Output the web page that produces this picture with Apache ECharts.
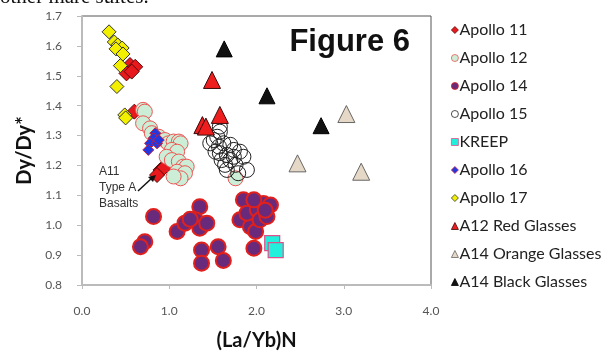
<!DOCTYPE html>
<html>
<head>
<meta charset="utf-8">
<script src="https://cdn.jsdelivr.net/npm/echarts@6/dist/echarts.min.js"></script>
<style>
  html, body { margin: 0; padding: 0; background: #fff; }
  #chart { width: 610px; height: 358px; }
</style>
</head>
<body>
<div id="chart"></div>
<script>
// [(La/Yb)N, Dy/Dy*] pairs per sample suite
const apollo11 = [[0.55, 1.536], [0.61, 1.53], [0.51, 1.508], [0.57, 1.514], [0.60, 1.38], [0.90, 1.185], [0.93, 1.19], [0.86, 1.168]];
const apollo12 = [[0.70, 1.386], [0.72, 1.38], [0.70, 1.341], [0.78, 1.324], [0.80, 1.308], [0.88, 1.296], [0.95, 1.285],
  [0.99, 1.274], [1.05, 1.28], [1.11, 1.28], [1.13, 1.274], [1.03, 1.252], [1.09, 1.246], [0.97, 1.229], [1.03, 1.218],
  [1.11, 1.213], [1.16, 1.196], [1.20, 1.196], [1.09, 1.179], [1.18, 1.174], [1.13, 1.157], [1.05, 1.163], [1.76, 1.157]];
const apollo14 = [[0.82, 1.029], [0.72, 0.945], [0.67, 0.928], [1.09, 0.979], [1.18, 1.007], [1.35, 1.062], [1.30, 1.018],
  [1.35, 0.99], [1.43, 1.007], [1.37, 0.917], [1.56, 0.928], [1.37, 0.873], [1.62, 0.882], [1.97, 0.923], [1.85, 1.085],
  [1.81, 1.018], [1.93, 0.995], [1.99, 0.979], [1.89, 1.04], [2.01, 1.051], [2.08, 1.073], [2.16, 1.068], [2.04, 1.018],
  [2.12, 1.029], [1.97, 1.085], [1.24, 1.02], [2.10, 1.05]];
const apollo15 = [[1.58, 1.33], [1.58, 1.313], [1.55, 1.296], [1.51, 1.285], [1.47, 1.274], [1.57, 1.263], [1.62, 1.274],
  [1.70, 1.269], [1.74, 1.252], [1.81, 1.246], [1.85, 1.229], [1.58, 1.241], [1.66, 1.235], [1.53, 1.246], [1.74, 1.229],
  [1.60, 1.218], [1.70, 1.218], [1.64, 1.202], [1.76, 1.202], [1.66, 1.185], [1.89, 1.185], [1.79, 1.174]];
const kreep = [[2.18, 0.94], [2.22, 0.917]];
const apollo16 = [[0.84, 1.308], [0.82, 1.291], [0.78, 1.274], [0.86, 1.274], [0.76, 1.252], [0.88, 1.285]];
const apollo17 = [[0.31, 1.647], [0.37, 1.613], [0.41, 1.603], [0.46, 1.593], [0.39, 1.59], [0.47, 1.573],
  [0.44, 1.534], [0.40, 1.464], [0.49, 1.369], [0.50, 1.359]];
const a12RedGlasses = [[1.49, 1.486], [1.58, 1.369], [1.38, 1.335], [1.42, 1.33]];
const a14OrangeGlasses = [[3.03, 1.372], [2.47, 1.207], [3.20, 1.179]];
const a14BlackGlasses = [[1.63, 1.59], [2.12, 1.433], [2.74, 1.333]];

const xTicks = [0, 1, 2, 3, 4];
const yTicks = [0.8, 0.9, 1.0, 1.1, 1.2, 1.3, 1.4, 1.5, 1.6, 1.7];

const chart = echarts.init(document.getElementById('chart'), null, { renderer: 'canvas' });

function scatter(name, data, symbol, size, fill, stroke, lw) {
  return {
    name, type: 'scatter', data, symbol, symbolSize: size,
    itemStyle: { color: fill, borderColor: stroke, borderWidth: lw, opacity: 1 },
    emphasis: { disabled: true }
  };
}

const labelFont = 'Lato, "Open Sans", sans-serif';

chart.setOption({
  animation: false,
  backgroundColor: '#fff',
  grid: { left: 82, right: 179, top: 16, bottom: 73, containLabel: false,
          show: true, borderColor: '#555', borderWidth: 1 },
  xAxis: {
    type: 'value', min: xTicks[0], max: xTicks[xTicks.length - 1], interval: 1,
    name: '(La/Yb)N', nameLocation: 'middle', nameGap: 46,
    nameTextStyle: { fontFamily: labelFont, fontWeight: 'bold', fontSize: 20, color: '#111' },
    axisLine: { lineStyle: { color: '#bbb', width: 2 } },
    axisTick: { show: true, length: 4, lineStyle: { color: '#bbb' } },
    axisLabel: { margin: 20, color: '#555', fontSize: 12, fontFamily: labelFont,
                 formatter: v => v.toFixed(1) },
    splitLine: { show: false }
  },
  yAxis: {
    type: 'value', min: yTicks[0], max: yTicks[yTicks.length - 1], interval: 0.1,
    name: 'Dy/Dy*', nameLocation: 'middle', nameGap: 44, nameRotate: 90,
    nameTextStyle: { fontFamily: labelFont, fontWeight: 'bold', fontSize: 20, color: '#111' },
    axisLine: { show: true, lineStyle: { color: '#bbb', width: 2 } },
    axisTick: { show: true, length: 5, lineStyle: { color: '#bbb' } },
    axisLabel: { margin: 20, color: '#555', fontSize: 12, fontFamily: labelFont,
                 formatter: v => v.toFixed(1) },
    splitLine: { show: false }
  },
  legend: {
    orient: 'vertical', left: 446, top: 17, itemGap: 12,
    itemWidth: 7, itemHeight: 7,
    itemStyle: { borderWidth: 0.8 },
    textStyle: { fontFamily: labelFont, fontSize: 16, color: '#222', padding: [0, 0, 0, -4] },
    data: ['Apollo 11', 'Apollo 12', 'Apollo 14', 'Apollo 15', 'KREEP', 'Apollo 16', 'Apollo 17',
           'A12 Red Glasses', 'A14 Orange Glasses', 'A14 Black Glasses']
  },
  title: {
    text: 'Figure 6', right: 195, top: 22,
    textStyle: { fontFamily: 'Liberation Sans, Arial, sans-serif', fontWeight: 'bold', fontSize: 31, color: '#111' }
  },
  graphic: [
    { type: 'text', left: 0, top: -13,
      style: { text: 'other mare suites.', font: '21px "Liberation Serif", serif', fill: '#111' } },
    { type: 'text', left: 99, top: 164,
      style: { text: 'A11\nType A\nBasalts', font: '12px "Liberation Sans", Arial, sans-serif', fill: '#333',
               lineHeight: 16, align: 'left' } },
    { type: 'line', shape: { x1: 138, y1: 191, x2: 152, y2: 178 }, style: { stroke: '#111', lineWidth: 1.5 }, z: 10 },
    { type: 'polygon', shape: { points: [[156, 175], [148, 177], [153, 182]] }, style: { fill: '#111' }, z: 10 }
  ],
  series: [
    scatter('Apollo 11', apollo11, 'diamond', 15, '#e8191c', '#5a0a0a', 1),
    scatter('Apollo 12', apollo12, 'circle', 15, '#cdeed6', '#ee5555', 1),
    scatter('Apollo 14', apollo14, 'circle', 15, '#6a2a7c', '#e0201c', 2),
    scatter('Apollo 15', apollo15, 'circle', 15, 'rgba(255,255,255,0)', '#222', 1),
    scatter('KREEP', kreep, 'rect', 15, '#22f0dc', '#e0508a', 1.2),
    scatter('Apollo 16', apollo16, 'diamond', 11, '#2237e0', '#c81e3c', 1),
    scatter('Apollo 17', apollo17, 'diamond', 14, '#f2f000', '#333', 1),
    scatter('A12 Red Glasses', a12RedGlasses, 'triangle', 17, '#ee1e1e', '#3a0a0a', 1),
    scatter('A14 Orange Glasses', a14OrangeGlasses, 'triangle', 17, '#e6d8c6', '#666', 1),
    scatter('A14 Black Glasses', a14BlackGlasses, 'triangle', 16, '#111', '#000', 1)
  ]
});
</script>
</body>
</html>
